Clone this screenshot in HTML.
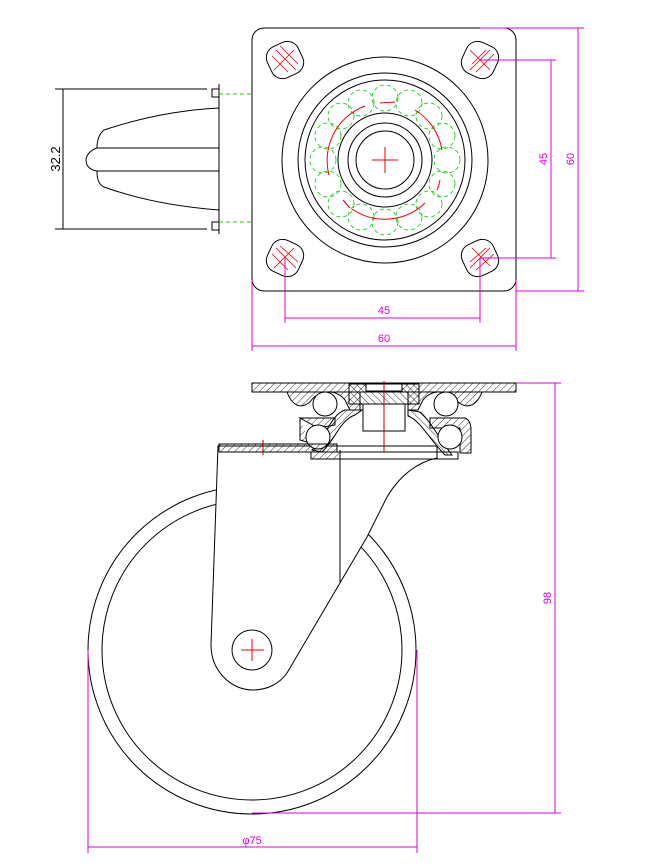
<!DOCTYPE html>
<html><head><meta charset="utf-8"><style>body{margin:0;background:#fff}svg{display:block}</style></head><body>
<svg width="651" height="866" viewBox="0 0 651 866" xmlns="http://www.w3.org/2000/svg" font-family="Liberation Sans, sans-serif">
<defs>
<pattern id="h" width="5" height="5" patternUnits="userSpaceOnUse" patternTransform="rotate(45)"><line x1="0" y1="0" x2="0" y2="5" stroke="#000" stroke-width="0.8"/></pattern>
<pattern id="h2" width="5" height="5" patternUnits="userSpaceOnUse" patternTransform="rotate(-45)"><line x1="0" y1="0" x2="0" y2="5" stroke="#000" stroke-width="0.8"/></pattern>
</defs>
<g fill="none" stroke="#000" stroke-width="1">
<!-- top view plate -->
<rect x="252" y="28" width="264" height="263" rx="12"/>
<g transform="translate(385,160)">
<circle r="103"/><circle r="87"/><circle r="80"/><circle r="47"/><circle r="37"/><circle r="29"/>
</g>
<!-- holes -->
<g>
<rect x="268" y="43" width="34" height="34" rx="12" transform="rotate(-25 285 60)"/>
<rect x="463" y="43" width="34" height="34" rx="12" transform="rotate(25 480 60)"/>
<rect x="268" y="241" width="34" height="34" rx="12" transform="rotate(25 285 258)"/>
<rect x="463" y="241" width="34" height="34" rx="12" transform="rotate(-25 480 258)"/>
</g>
<!-- side view left -->
<line x1="55" y1="89" x2="207" y2="89"/><line x1="55" y1="229" x2="207" y2="229"/>
<rect x="212" y="89" width="7" height="8"/><rect x="212" y="222" width="7" height="8"/>
<line x1="219" y1="84" x2="219" y2="234"/>
<path d="M219 108 C180 110 140 118 104 130 C98 135 97 142 97 148 C90 150 86 156 86 160 C86 166 90 170 97 171 C97 178 98 184 104 187 C140 200 180 207 219 210"/>
<line x1="97" y1="148" x2="219" y2="148"/><line x1="97" y1="171" x2="219" y2="171"/>
<!-- wheel -->
<circle cx="252" cy="650" r="164"/>
<circle cx="252" cy="650" r="150"/>
</g>
<!-- fork (white fill covers wheel) -->
<path d="M218 446 L211 645 C211 670 230 690 253 690 C268 690 280 683 287 673 L367 537 L387 497 C400 475 418 462 437 458 L437 446 Z" fill="#fff" stroke="#000"/>
<line x1="340" y1="450" x2="340" y2="582" stroke="#000"/>
<circle cx="252" cy="650" r="20" fill="none" stroke="#000"/>
<g stroke="#e00" stroke-width="1">
<line x1="241" y1="650" x2="264" y2="650"/><line x1="252" y1="639" x2="252" y2="661"/>
<line x1="372" y1="160" x2="398" y2="160"/><line x1="385" y1="147" x2="385" y2="173"/>
</g>
<!-- section top -->
<g stroke="#000" stroke-width="1">
<rect x="252" y="383" width="264" height="9" fill="url(#h)"/>
<path d="M287 392 C292 405 300 410 310 402 C318 390 335 388 345 400 L350 410 L360 410 L360 392 Z" fill="url(#h)"/>
<path d="M482 392 C477 405 468 410 458 402 C450 390 433 388 423 400 L418 410 L408 410 L408 392 Z" fill="url(#h)"/>
<rect x="349" y="384" width="70" height="20" fill="url(#h2)"/>
<rect x="366" y="384" width="36" height="7" fill="#fff"/>
<rect x="363" y="404" width="42" height="27" fill="#fff"/>
<path d="M300 418 L335 418 L335 425 L318 428 Z M300 418 L300 440 L310 443" fill="url(#h)"/>
<path d="M345 410 L362 410 L355 415 C340 420 335 440 322 452 L312 450 C325 440 330 415 345 410 Z" fill="url(#h)"/>
<path d="M408 410 L420 412 C430 420 440 440 452 455 L445 455 C430 440 420 420 408 416 Z" fill="url(#h2)"/>
<path d="M430 418 L465 418 C470 420 471 425 471 430 L471 453 L460 453 L460 428 L430 428 Z" fill="url(#h)"/>
<circle cx="325" cy="404" r="12" fill="#fff"/><circle cx="446" cy="404" r="12" fill="#fff"/>
<circle cx="318" cy="437" r="12" fill="#fff"/><circle cx="450" cy="437" r="12" fill="#fff"/>
<rect x="219" y="444" width="118" height="8" fill="url(#h)"/>
<rect x="311" y="452" width="147" height="7" fill="none"/>
<path d="M311 452 L340 452 L340 459 L311 459 Z" fill="url(#h)"/>
</g>
<g stroke="#b00" stroke-width="1">
<line x1="384" y1="381" x2="384" y2="452"/><line x1="263" y1="440" x2="263" y2="455"/>
</g>
<!-- green dashed balls -->
<g fill="none" stroke="#2c2" stroke-width="0.9" stroke-dasharray="4 3">
<line x1="219" y1="94" x2="251" y2="94"/><line x1="219" y1="222" x2="251" y2="222"/>
<g transform="translate(385,160)">
<circle cx="62" cy="0" r="13"/><circle cx="57" cy="24" r="13"/><circle cx="44" cy="44" r="13"/><circle cx="24" cy="57" r="13"/>
<circle cx="0" cy="62" r="13"/><circle cx="-24" cy="57" r="13"/><circle cx="-44" cy="44" r="13"/><circle cx="-57" cy="24" r="13"/>
<circle cx="-62" cy="0" r="13"/><circle cx="-57" cy="-24" r="13"/><circle cx="-44" cy="-44" r="13"/><circle cx="-24" cy="-57" r="13"/>
<circle cx="0" cy="-62" r="13"/><circle cx="24" cy="-57" r="13"/><circle cx="44" cy="-44" r="13"/><circle cx="57" cy="-24" r="13"/>
</g></g>
<g fill="none" stroke="#e00" stroke-width="1" transform="translate(385,160)">
<path d="M30 -50 A58 58 0 0 1 57 -10"/><path d="M55 20 A58 58 0 0 1 52 30"/><path d="M40 43 A58 58 0 0 1 -33 49"/>
<path d="M-42 40 L-35 48"/><path d="M-56 15 A58 58 0 0 1 -20 -54"/><path d="M-5 -57 L10 -58"/>
</g>
<g stroke="#e00" stroke-width="0.8">
<path d="M276 50 L296 70 M272 56 L288 72 M280 46 L298 64 M274 70 L294 50"/>
<path d="M470 70 L490 50 M472 64 L486 50 M476 72 L494 54 M470 50 L490 70"/>
<path d="M276 248 L296 268 M272 254 L288 270 M280 246 L298 262 M274 268 L294 248"/>
<path d="M470 268 L490 248 M470 262 L486 248 M476 270 L494 254 M472 248 L490 266"/>
</g>
<!-- dimensions -->
<g stroke="#d0d" stroke-width="1" fill="none">
<line x1="480" y1="28" x2="584" y2="28"/><line x1="516" y1="291" x2="584" y2="291"/><line x1="578" y1="28" x2="578" y2="291"/>
<line x1="480" y1="60" x2="556" y2="60"/><line x1="480" y1="258" x2="556" y2="258"/><line x1="551" y1="60" x2="551" y2="258"/>
<line x1="285" y1="258" x2="285" y2="323"/><line x1="480" y1="258" x2="480" y2="323"/><line x1="285" y1="318" x2="480" y2="318"/>
<line x1="252" y1="280" x2="252" y2="351"/><line x1="516" y1="280" x2="516" y2="351"/><line x1="252" y1="346" x2="516" y2="346"/>
<line x1="516" y1="383" x2="561" y2="383"/><line x1="252" y1="813" x2="561" y2="813"/><line x1="555" y1="383" x2="555" y2="813"/>
<line x1="88" y1="650" x2="88" y2="853"/><line x1="417" y1="650" x2="417" y2="853"/><line x1="88" y1="847" x2="417" y2="847"/>
</g>
<line x1="63" y1="89" x2="63" y2="229" stroke="#000"/>
<g fill="#d0d" font-size="11">
<text x="384" y="314" text-anchor="middle">45</text>
<text x="384" y="342" text-anchor="middle">60</text>
<text transform="translate(547,159) rotate(-90)" text-anchor="middle">45</text>
<text transform="translate(574,159) rotate(-90)" text-anchor="middle">60</text>
<text transform="translate(551,598) rotate(-90)" text-anchor="middle">98</text>
<text x="252" y="844" text-anchor="middle">φ75</text>
</g>
<text transform="translate(60,159) rotate(-90)" text-anchor="middle" font-size="13" fill="#000">32.2</text>
</svg>
</body></html>
